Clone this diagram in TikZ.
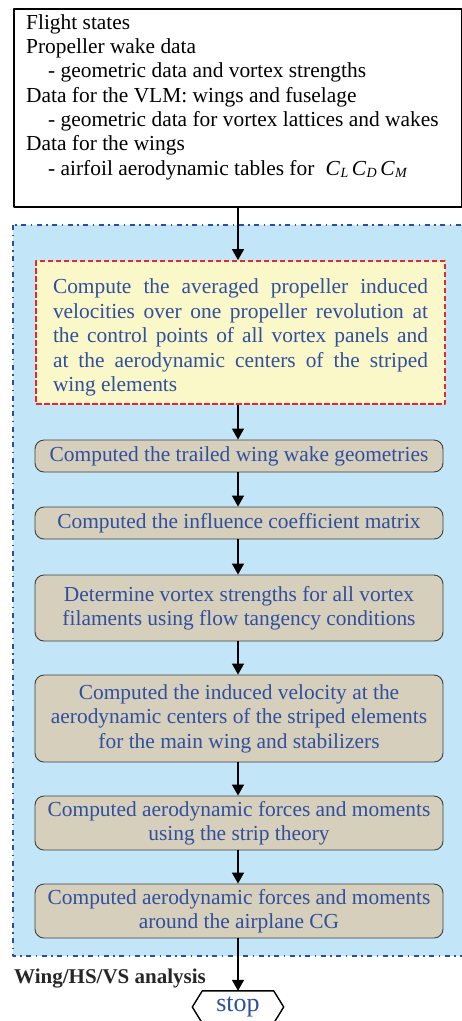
\documentclass[tikz,border=0pt]{standalone}
\usepackage{fontspec}
\setmainfont{Liberation Serif}
\usetikzlibrary{arrows.meta}
\definecolor{txtblue}{HTML}{2F4F9F}
\definecolor{skyfill}{HTML}{C2E6F8}
\definecolor{tanfill}{HTML}{D6CFBC}
\definecolor{paleyel}{HTML}{FAF7C8}
\definecolor{frameblue}{HTML}{2B4EA2}
\definecolor{dashred}{HTML}{E8262B}
\newcommand{\coef}[1]{\textit{C}\kern0.3pt{\fontsize{14}{14}\selectfont\raisebox{-0.45ex}{\textit{#1}}}}
\begin{document}
\begin{tikzpicture}[x=1pt,y=-1pt,>={Triangle[width=12pt,length=11pt]}, font=\fontsize{21.4}{24.4}\selectfont, line join=round,
	procbox/.style={draw=black!75, line width=0.9pt, fill=tanfill, rounded corners=9pt, text=txtblue, align=center, minimum width=408pt, inner sep=0pt},
	flow/.style={->, line width=1.4pt}]
	\useasboundingbox (0,0) rectangle (462,1021);
	\clip (0,0) rectangle (462,1021);
	% vung phan tich
	\draw[frameblue, fill=skyfill, line width=2pt, dash pattern=on 5pt off 4.5pt on 1.5pt off 4.5pt] (13,225) rectangle (490,956);
	% du lieu vao
	\node[draw, line width=1.6pt, minimum width=448pt, minimum height=198pt, anchor=north west] (input) at (13,8) {};
	\node[anchor=base west, align=left, inner sep=0pt, font=\fontsize{21.4}{24.33}\selectfont] (inputtxt) at (26,175) {Flight states\\
		Propeller wake data\\
		\hspace{22pt}- geometric data and vortex strengths\\
		Data for the VLM: wings and fuselage\\
		\hspace{22pt}- geometric data for vortex lattices and wakes\\
		Data for the wings\\
		\hspace{22pt}- airfoil aerodynamic tables for \hspace{6pt}\coef{L}\,\coef{D}\,\coef{M}};
	% cac buoc tinh
	\node[draw=dashred, line width=1.8pt, dash pattern=on 5.5pt off 2.5pt, fill=paleyel, minimum width=409pt, minimum height=143pt, text width=375pt, align=justify, text=txtblue, inner sep=0pt] (avg) at (240.5,332.5) {\rule{0pt}{25pt}Compute the averaged propeller induced\linebreak velocities over one propeller revolution at\linebreak the control points of all vortex panels and\linebreak at the aerodynamic centers of the striped\linebreak wing elements};
	\node[procbox, minimum height=32pt] (wake) at (239,456) {Computed the trailed wing wake geometries};
	\node[procbox, minimum height=32pt] (infl) at (239,523) {Computed the influence coefficient matrix};
	\node[procbox, minimum height=66pt] (gamma) at (239,608) {Determine vortex strengths for all vortex\\ filaments using flow tangency conditions};
	\node[procbox, minimum height=87pt] (vind) at (239,718.5) {Computed the induced velocity at the\\ aerodynamic centers of the striped elements\\ for the main wing and stabilizers};
	\node[procbox, minimum height=54pt] (strip) at (239,823) {Computed aerodynamic forces and moments\\ using the strip theory};
	\node[procbox, minimum height=54pt] (cg) at (239,911) {Computed aerodynamic forces and moments\\ around the airplane CG};
	\node[anchor=base west, inner sep=0pt, text=black!85, font=\fontsize{21}{24}\selectfont\bfseries] (lbl) at (14,983) {Wing/HS/VS analysis};
	% ket thuc
	\node[minimum width=71pt, minimum height=32pt, inner sep=0pt, text=txtblue, font=\fontsize{26}{28}\selectfont] (stop) at (238,1007) {stop};
	\draw[line width=1.4pt] (stop.north west) -- (stop.north east) -- ([xshift=10pt]stop.east) -- (stop.south east) -- (stop.south west) -- ([xshift=-10pt]stop.west) -- cycle;
	\draw[flow] (input.south -| stop) -- (avg.north -| stop);
	\draw[flow] (avg.south -| stop) -- (wake.north -| stop);
	\draw[flow] (wake.south -| stop) -- (infl.north -| stop);
	\draw[flow] (infl.south -| stop) -- (gamma.north -| stop);
	\draw[flow] (gamma.south -| stop) -- (vind.north -| stop);
	\draw[flow] (vind.south -| stop) -- (strip.north -| stop);
	\draw[flow] (strip.south -| stop) -- (cg.north -| stop);
	\draw[flow] (cg.south -| stop) -- (stop.north);
\end{tikzpicture}
\end{document}
